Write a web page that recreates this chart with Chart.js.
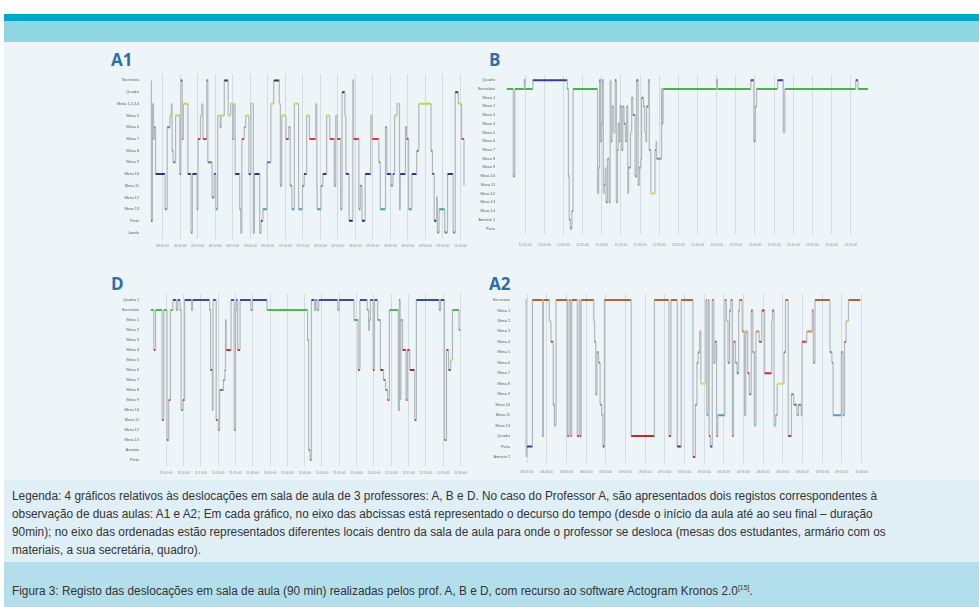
<!DOCTYPE html>
<html lang="pt">
<head>
<meta charset="utf-8">
<title>Figura 3</title>
<script src="https://cdn.jsdelivr.net/npm/chart.js@4.4.1/dist/chart.umd.min.js"></script>
<style>
  html, body { margin: 0; padding: 0; background: #fff; }
  #page { position: relative; width: 979px; height: 607px; overflow: hidden; font-family: "Liberation Sans", Arial, sans-serif; }
  .bar1 { position: absolute; left: 4px; right: 0; top: 14px; height: 7px; background: #00a8c8; }
  .bar2 { position: absolute; left: 4px; right: 0; top: 21px; height: 21px; background: #8fd5e3; }
  .panel { position: absolute; left: 4px; right: 0; top: 42px; height: 438px; background: #edf5f8; }
  .legend { position: absolute; left: 4px; right: 0; top: 480px; height: 82px; background: #dfeff5; }
  .caption { position: absolute; left: 4px; right: 0; top: 562px; height: 45px; background: #b2dfeb; }
  .ttl { position: absolute; font: 700 17px "Open Sans", sans-serif; color: #2f6ea6; line-height: 20px; }
  canvas { position: absolute; }
  .txt { position: absolute; left: 12px; white-space: nowrap; font-size: 12px; line-height: 14px; color: #333; transform-origin: left center; }
  .txt sup { font-size: 7px; }
</style>
</head>
<body>
<div id="page">
  <div class="bar1"></div>
  <div class="bar2"></div>
  <div class="panel"></div>
  <div class="legend"></div>
  <div class="caption"></div>

  <div class="ttl" style="left:111px; top:50px;">A1</div>
  <div class="ttl" style="left:489px; top:50px;">B</div>
  <div class="ttl" style="left:111px; top:274px;">D</div>
  <div class="ttl" style="left:489px; top:274px;">A2</div>

  <canvas id="chartA1" width="372" height="186" style="left:100px; top:66px;"></canvas>
  <canvas id="chartB" width="405" height="186" style="left:470px; top:66px;"></canvas>
  <canvas id="chartD" width="372" height="194" style="left:100px; top:286px;"></canvas>
  <canvas id="chartA2" width="400" height="194" style="left:475px; top:286px;"></canvas>

  <div class="txt" style="top:489px;">Legenda: 4 gráficos relativos às deslocações em sala de aula de 3 professores: A, B e D. No caso do Professor A, são apresentados dois registos correspondentes à</div>
  <div class="txt" style="top:507px;">observação de duas aulas: A1 e A2; Em cada gráfico, no eixo das abcissas está representado o decurso do tempo (desde o início da aula até ao seu final – duração</div>
  <div class="txt" style="top:525px;">90min); no eixo das ordenadas estão representados diferentes locais dentro da sala de aula para onde o professor se desloca (mesas dos estudantes, armário com os</div>
  <div class="txt" style="top:543px;">materiais, a sua secretária, quadro).</div>
  <div class="txt" style="top:581px;">Figura 3: Registo das deslocações em sala de aula (90 min) realizadas pelos prof. A, B e D, com recurso ao software Actogram Kronos 2.0<sup>[15]</sup>.</div>
</div>

<script>
// ---- A1 (professor A, aula 1) ----
var a1Places = ['Secretária', 'Quadro', 'Mesa 1,2,3,4', 'Mesa 5', 'Mesa 6', 'Mesa 7', 'Mesa 8', 'Mesa 9', 'Mesa 10', 'Mesa 11', 'Mesa 12', 'Mesa 13', 'Porta', 'Janela'];
var a1Start = '08:31:42';
var a1Ticks = ['08:35:00', '08:40:00', '08:45:00', '08:50:00', '08:55:00', '09:00:00', '09:05:00', '09:10:00', '09:15:00', '09:20:00', '09:25:00', '09:30:00', '09:35:00', '09:40:00', '09:45:00', '09:50:00', '09:55:00', '10:00:00'];
// minutes after start, and the place (index in a1Places) the professor moves to
var a1Times = [0, 0.1, 0.4, 0.7, 0.9, 1.3, 4.0, 4.6, 5.4, 5.8, 6.0, 6.3, 7.0, 8.2, 8.5, 8.9, 9.2, 10.5, 11.4, 11.8,
    13.1, 13.4, 14.1, 14.5, 14.8, 15.9, 16.2, 17.4, 18.0, 18.5, 19.0, 19.7, 20.0, 20.9, 22.0, 22.7, 23.3, 23.6, 24.0, 25.3,
    25.6, 25.9, 26.6, 27.0, 27.9, 28.5, 29.2, 29.5, 31.0, 31.4, 31.9, 33.1, 34.2, 35.0, 36.6, 36.9, 37.3, 38.5, 39.3, 39.7,
    40.2, 40.9, 42.1, 43.2, 43.7, 44.4, 45.2, 47.0, 47.3, 47.4, 48.5, 49.0, 50.1, 51.0, 52.3, 52.7, 53.1, 54.1, 54.5, 55.3,
    55.6, 56.5, 57.6, 57.8, 59.3, 59.7, 60.2, 61.1, 62.7, 63.1, 65.0, 65.4, 66.9, 67.3, 68.5, 69.0, 69.5, 70.2, 70.9, 71.1,
    72.6, 72.9, 73.5, 74.4, 75.8, 76.4, 79.9, 80.3, 80.8, 81.5, 81.7, 82.2, 83.8, 84.6, 86.2, 86.8, 87.7, 88.6, 89.3];
var a1Where = [0, 12, 2, 5, 4, 8, 11, 4, 3, 2, 6, 7, 3, 8, 0, 5, 2, 8, 13, 8,
    11, 5, 3, 2, 5, 0, 7, 10, 8, 11, 3, 4, 3, 0, 3, 2, 5, 2, 8, 11,
    13, 5, 4, 3, 8, 2, 13, 8, 13, 12, 11, 7, 2, 0, 2, 9, 3, 5, 4, 9,
    11, 2, 11, 9, 8, 3, 5, 2, 9, 11, 9, 8, 3, 5, 9, 3, 5, 11, 1, 3,
    8, 12, 0, 5, 11, 9, 12, 8, 3, 5, 7, 11, 4, 8, 9, 8, 3, 2, 11, 8,
    4, 5, 11, 8, 6, 2, 6, 8, 12, 10, 13, 11, 13, 8, 13, 1, 2, 5, 9];
var a1End = 89.5;

// ---- B ----
var bPlaces = ['Quadro', 'Secretária', 'Mesa 1', 'Mesa 2', 'Mesa 3', 'Mesa 4', 'Mesa 5', 'Mesa 6', 'Mesa 7', 'Mesa 8', 'Mesa 9', 'Mesa 10', 'Mesa 11', 'Mesa 12', 'Mesa 13', 'Mesa 14', 'Armário 1', 'Porta'];
var bStart = '11:55:12';
var bTicks = ['12:00:00', '12:05:00', '12:10:00', '12:15:00', '12:20:00', '12:25:00', '12:30:00', '12:35:00', '12:40:00', '12:45:00', '12:50:00', '12:55:00', '13:00:00', '13:05:00', '13:10:00', '13:15:00', '13:20:00', '13:25:00'];
var bTimes = [0, 1.7, 2.1, 4.6, 4.8, 6.8, 15.8, 16.1, 16.3, 16.6, 17.0, 17.3, 23.7, 24.0, 24.2, 24.5, 24.8, 25.0, 25.2, 25.4,
    25.7, 25.9, 26.3, 26.7, 27.0, 27.2, 27.5, 27.8, 28.3, 28.6, 28.9, 29.1, 29.4, 29.6, 30.0, 30.3, 30.6, 31.0, 31.3, 31.6,
    31.8, 32.3, 32.6, 32.9, 33.5, 33.9, 34.3, 34.6, 35.0, 35.2, 35.7, 36.0, 36.3, 36.5, 37.0, 37.2, 37.6, 38.7, 39.0, 39.1,
    40.4, 40.6, 40.8, 54.8, 55.0, 63.7, 64.5, 64.9, 65.2, 70.7, 72.2, 72.6, 91.1, 91.7];
var bWhere = [1, 11, 1, 0, 1, 0, 1, 11, 16, 17, 15, 1, 13, 10, 0, 7, 5, 0, 13, 12,
    10, 14, 9, 14, 0, 7, 3, 6, 0, 14, 8, 5, 7, 3, 8, 3, 5, 7, 3, 13,
    10, 6, 2, 4, 11, 0, 12, 10, 9, 2, 3, 6, 7, 3, 0, 8, 13, 8, 7, 9,
    1, 5, 1, 0, 1, 0, 7, 3, 1, 0, 6, 1, 0, 1];
var bEnd = 94.3;

// ---- D ----
var dPlaces = ['Quadro 1', 'Secretária', 'Mesa 1', 'Mesa 2', 'Mesa 3', 'Mesa 4', 'Mesa 5', 'Mesa 6', 'Mesa 7', 'Mesa 8', 'Mesa 9', 'Mesa 10', 'Mesa 11', 'Mesa 12', 'Mesa 13', 'Armário', 'Porta'];
var dStart = '11:00:33';
var dTicks = ['11:05:00', '11:10:00', '11:15:00', '11:20:00', '11:25:00', '11:30:00', '11:35:00', '11:40:00', '11:45:00', '11:50:00', '11:55:00', '12:00:00', '12:05:00', '12:10:00', '12:15:00', '12:20:00', '12:25:00', '12:30:00'];
var dTimes = [0, 0.9, 1.4, 3.3, 3.8, 4.7, 5.2, 5.7, 6.4, 7.4, 7.8, 8.5, 8.8, 9.3, 9.8, 11.8, 12.1, 17.0, 17.3, 17.8,
    18.0, 18.9, 19.5, 19.9, 21.0, 21.4, 21.6, 21.8, 23.2, 24.1, 24.5, 24.7, 25.1, 25.8, 28.9, 29.4, 33.6, 45.3, 45.6, 46.0,
    46.4, 47.3, 47.6, 48.0, 48.5, 54.0, 54.4, 58.7, 59.9, 60.4, 62.5, 62.9, 63.1, 63.4, 64.2, 64.6, 65.5, 66.3, 67.2, 67.8,
    68.4, 68.9, 71.5, 71.8, 72.0, 72.2, 72.7, 73.7, 74.1, 74.8, 76.2, 76.7, 83.3, 83.7, 84.8, 85.4, 86.0, 86.6, 87.1, 89.0];
var dWhere = [1, 5, 1, 12, 1, 14, 10, 1, 0, 1, 0, 1, 11, 10, 0, 1, 0, 1, 7, 11,
    0, 12, 13, 9, 8, 7, 2, 5, 0, 13, 1, 0, 5, 0, 1, 0, 1, 4, 15, 16,
    0, 1, 0, 1, 0, 1, 0, 2, 7, 0, 1, 3, 2, 0, 7, 0, 2, 7, 8, 9,
    10, 1, 11, 0, 10, 2, 5, 10, 5, 7, 12, 0, 1, 0, 14, 5, 7, 6, 1, 3];
var dEnd = 89.3;

// ---- A2 (professor A, aula 2) ----
var a2Places = ['Secretária', 'Mesa 1', 'Mesa 2', 'Mesa 3', 'Mesa 4', 'Mesa 5', 'Mesa 6', 'Mesa 7', 'Mesa 8', 'Mesa 9', 'Mesa 10', 'Mesa 11', 'Mesa 14', 'Quadro', 'Porta', 'Armário 2'];
var a2Start = '08:34:40';
var a2Ticks = ['08:35:00', '08:40:00', '08:45:00', '08:50:00', '08:55:00', '09:00:00', '09:05:00', '09:10:00', '09:15:00', '09:20:00', '09:25:00', '09:30:00', '09:35:00', '09:40:00', '09:45:00', '09:50:00', '09:55:00', '10:00:00'];
var a2Times = [0, 0.1, 0.3, 1.7, 4.3, 4.5, 6.0, 6.4, 7.0, 7.3, 7.7, 10.6, 11.0, 11.4, 11.7, 13.1, 13.6, 13.8, 14.1, 17.3,
    17.5, 17.8, 18.1, 18.5, 18.9, 19.3, 19.6, 20.0, 26.8, 32.7, 36.4, 36.9, 38.5, 39.5, 42.5, 43.1, 43.5, 43.8, 44.2, 44.5,
    45.8, 46.0, 46.4, 46.6, 46.9, 47.4, 47.8, 48.1, 48.5, 48.8, 50.6, 51.0, 51.4, 51.8, 52.1, 52.5, 52.8, 53.3, 53.7, 54.1,
    54.3, 55.0, 55.6, 55.9, 56.4, 56.8, 57.3, 57.7, 58.1, 58.5, 59.3, 60.0, 60.7, 62.5, 62.7, 63.1, 63.5, 63.9, 65.6, 66.0,
    66.7, 67.5, 68.1, 68.9, 69.3, 70.0, 70.2, 71.4, 72.8, 73.1, 73.5, 77.3, 77.8, 78.1, 80.2, 80.6, 81.0, 81.4, 82.0];
var a2Where = [0, 15, 14, 0, 13, 0, 2, 4, 10, 12, 0, 13, 0, 13, 0, 13, 0, 13, 0, 2,
    4, 9, 5, 6, 10, 11, 14, 0, 13, 0, 13, 0, 14, 0, 15, 10, 6, 5, 3, 8,
    0, 11, 0, 13, 14, 0, 6, 4, 13, 11, 0, 2, 6, 1, 0, 13, 4, 6, 7, 1,
    0, 3, 11, 3, 7, 9, 1, 5, 12, 3, 4, 1, 7, 2, 1, 12, 11, 8, 5, 0,
    13, 9, 10, 11, 10, 11, 4, 3, 1, 6, 0, 5, 6, 11, 5, 11, 4, 2, 0];
var a2End = 85.0;

Chart.defaults.font.family = '"Liberation Sans", Arial, sans-serif';

var stepGrey = '#b3b8bb';
var stayGrey = '#777c7f';

function toMin(s) {
    var p = s.split(':');
    return Number(p[0]) * 60 + Number(p[1]) + Number(p[2]) / 60;
}

function actogram(id, places, start, ticks, times, where, end, colors, box) {
    var t0 = toMin(start);
    var tickVals = ticks.map(function (s) { return toMin(s) - t0; });
    var pts = [];
    for (var i = 0; i < times.length; i++) {
        var next = i + 1 < times.length ? times[i + 1] : end;
        pts.push({ x: times[i], y: where[i] });
        pts.push({ x: next, y: where[i] });
    }
    var flat = function (ctx) { return ctx.p0.parsed.y === ctx.p1.parsed.y; };

    new Chart(id, {
        type: 'line',
        data: {
            datasets: [{
                data: pts,
                borderColor: stepGrey,
                borderWidth: 1.2,
                pointRadius: 0,
                tension: 0,
                fill: false,
                segment: {
                    borderColor: function (ctx) {
                        if (!flat(ctx)) return stepGrey;
                        return colors[ctx.p0.parsed.y] || stayGrey;
                    },
                    borderWidth: function (ctx) { return flat(ctx) ? 2 : 1.2; }
                }
            }]
        },
        options: {
            responsive: false,
            animation: false,
            events: [],
            layout: { padding: { top: box.top, right: box.right, left: 0, bottom: 0 } },
            plugins: { legend: { display: false }, tooltip: { enabled: false } },
            scales: {
                x: {
                    type: 'linear',
                    min: box.xmin,
                    max: box.xmax,
                    afterBuildTicks: function (s) { s.ticks = tickVals.map(function (v) { return { value: v }; }); },
                    afterFit: function (s) { s.height = box.xh; },
                    grid: { color: '#d5dbde', lineWidth: 1, drawTicks: false },
                    border: { display: false },
                    ticks: {
                        autoSkip: false, maxRotation: 0, padding: box.xpad, color: '#8b9194',
                        font: { size: 3.3 },
                        callback: function (v, i) { return ticks[i]; }
                    }
                },
                y: {
                    type: 'linear',
                    reverse: true,
                    min: -box.ypad,
                    max: places.length - 1 + box.ypad,
                    afterBuildTicks: function (s) { s.ticks = places.map(function (p, i) { return { value: i }; }); },
                    afterFit: function (s) { s.width = box.yw; },
                    grid: { display: false },
                    border: { display: false },
                    ticks: {
                        autoSkip: false, padding: 3, color: '#5b6063',
                        font: { size: 3.8 },
                        callback: function (v) { return places[v]; }
                    }
                }
            }
        }
    });
}

actogram('chartA1', a1Places, a1Start, a1Ticks, a1Times, a1Where, a1End,
    { 0: '#34383d', 1: '#34383d', 2: '#c6da3e', 3: '#c6da3e', 5: '#e2363a', 8: '#2b3490', 11: '#3aa89a', 12: '#262c5a' },
    { yw: 50, top: 8, right: 5, xh: 13, xpad: 5, xmin: -0.3, xmax: 89.8, ypad: 0.55 });

actogram('chartB', bPlaces, bStart, bTicks, bTimes, bWhere, bEnd,
    { 0: '#353d92', 1: '#46b446', 6: '#d8dc3a', 9: '#8c9093', 13: '#d8dc3a' },
    { yw: 36, top: 9, right: 7, xh: 18.3, xpad: 9, xmin: -0.2, xmax: 94.3, ypad: 0.6 });

actogram('chartD', dPlaces, dStart, dTicks, dTimes, dWhere, dEnd,
    { 0: '#3c4a9c', 1: '#4cba4c', 2: '#4cba4c', 5: '#c2313d', 6: '#d6d63e', 7: '#9a2c3a', 10: '#c83a44', 12: '#d23c3c' },
    { yw: 50, top: 8, right: 5, xh: 14, xpad: 5, xmin: -0.2, xmax: 89.8, ypad: 0.6 });

actogram('chartA2', a2Places, a2Start, a2Ticks, a2Times, a2Where, a2End,
    { 0: '#b4642f', 1: '#c43030', 2: '#d4d642', 3: '#e38a2c', 4: '#d03a2a', 7: '#d02a2a', 8: '#dede44', 11: '#4aa0d4', 12: '#58bcc6', 13: '#c42a2a', 14: '#303c96', 15: '#d42040' },
    { yw: 46, top: 7.7, right: 7, xh: 16.7, xpad: 7, xmin: -1.2, xmax: 85.5, ypad: 0.6 });

// squeeze the caption lines to the width of the printed ones
var lines = document.querySelectorAll('.txt');
var k = 865 / lines[0].getBoundingClientRect().width;
lines.forEach(function (el) { el.style.transform = 'scaleX(' + k.toFixed(3) + ')'; });
</script>
</body>
</html>
